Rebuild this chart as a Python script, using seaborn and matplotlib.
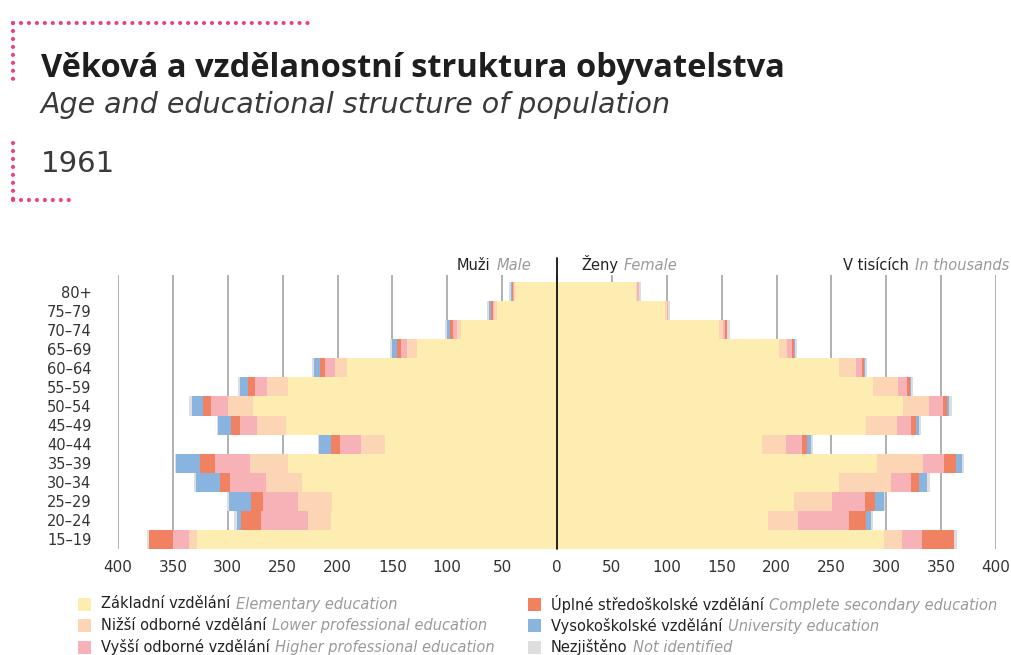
import numpy as np
import pandas as pd
import matplotlib
matplotlib.use("Agg")
import matplotlib.pyplot as plt
import seaborn as sns
from matplotlib.lines import Line2D
from matplotlib.patches import Rectangle

# age groups, top row first
ages = ["80+", "75–79", "70–74", "65–69", "60–64", "55–59", "50–54",
        "45–49", "40–44", "35–39", "30–34", "25–29", "20–24", "15–19"]

# thousands of persons (same order as ages)
male_elementary = [38, 55, 87.5, 128, 191, 245, 277, 247, 157, 245, 232, 205, 206, 328]
male_lower_prof = [1, 2, 3.7, 9, 11, 19, 23, 26, 22, 35, 33, 31, 21, 7]
male_higher_prof = [1, 1.5, 3.3, 5, 9, 11, 15, 16, 19, 32, 33, 32, 43, 15]
male_secondary = [1.2, 1.5, 2.8, 4, 5, 7, 8, 8, 8, 13, 9, 11, 18, 22]
male_university = [0.6, 2.4, 3, 4, 5, 7, 10, 12, 11, 22, 22, 20, 4, 0]
male_unknown = [1.9, 1.5, 1.8, 2, 2.4, 2, 2.5, 1, 1, 0.8, 2, 1.5, 2, 2]

female_elementary = [72, 98, 148, 202, 257, 288, 315, 282, 187, 291.5, 257, 216, 192, 298]
female_lower_prof = [1.2, 1.8, 3, 7.6, 15.5, 23, 24, 28, 22, 42, 47, 35, 28, 16]
female_higher_prof = [1.2, 1.2, 2, 4.2, 5, 7.6, 13, 13, 14, 19, 19, 30, 46, 19]
female_secondary = [0.3, 0.4, 2, 1.8, 2.4, 2.7, 3.6, 4, 5, 11.5, 6.4, 9, 16, 29]
female_university = [0, 0, 0.3, 1.2, 1, 1.5, 2, 2.4, 3, 5, 8, 7.6, 4, 0]
female_unknown = [1.8, 2, 2, 1.5, 1.8, 1.8, 2, 2, 2.5, 2, 2.4, 1.5, 2, 2.4]

cz_labels = ["Základní vzdělání", "Nižší odborné vzdělání", "Vyšší odborné vzdělání",
             "Úplné středoškolské vzdělání", "Vysokoškolské vzdělání", "Nezjištěno"]
en_labels = ["Elementary education", "Lower professional education",
             "Higher professional education", "Complete secondary education",
             "University education", "Not identified"]
colors = ["#FEEDB0", "#FCD5B5", "#F7B2B7", "#F08261", "#8AB4E0", "#DEDEDE"]

xticks = list(range(-400, 401, 50))

male = [male_elementary, male_lower_prof, male_higher_prof,
        male_secondary, male_university, male_unknown]
female = [female_elementary, female_lower_prof, female_higher_prof,
          female_secondary, female_university, female_unknown]

W, H = 1011, 655


def fx(x):
    return x / W


def fy(y):
    return 1 - y / H


sns.set_theme(style="white")
plt.rcParams["font.family"] = ["DejaVu Sans"]

fig = plt.figure(figsize=(W / 100, H / 100), dpi=100)
ax = fig.add_axes([fx(118), fy(549), fx(996 - 118), (549 - 275) / H])

# stacked bars: draw cumulative totals, outermost first
male_cum = np.cumsum(np.array(male), axis=0)
female_cum = np.cumsum(np.array(female), axis=0)
for i in range(len(colors) - 1, -1, -1):
    df = pd.DataFrame({"age": ages, "male": -male_cum[i], "female": female_cum[i]})
    sns.barplot(data=df, x="male", y="age", order=ages, orient="h", color=colors[i],
                saturation=1, width=1, linewidth=0, errorbar=None, ax=ax, zorder=2)
    sns.barplot(data=df, x="female", y="age", order=ages, orient="h", color=colors[i],
                saturation=1, width=1, linewidth=0, errorbar=None, ax=ax, zorder=2)

ax.set_xlim(-400, 400)
ax.set_ylim(13.5, -0.87)
ax.set_xticks(xticks)
ax.set_xticklabels([str(abs(t)) for t in xticks])
ax.set_xlabel("")
ax.set_ylabel("")
for s in ax.spines.values():
    s.set_visible(False)
ax.set_axisbelow(True)
ax.xaxis.grid(True, color="#A3A3A3", linewidth=1.2)
ax.yaxis.grid(False)
ax.tick_params(axis="x", length=0, pad=8, labelsize=11, labelcolor="#333333")
ax.tick_params(axis="y", length=0, pad=19, labelsize=10.5, labelcolor="#333333")
ax.axvline(0, ymin=0, ymax=1 + 17 / 274, color="#111111", linewidth=1.3,
           clip_on=False, zorder=5)

# header labels above the bars
hdr = 10.5
ty = fy(270)
t = fig.text(fx(531), ty, "Male", ha="right", va="baseline", fontsize=hdr,
             color="#9A9A9A", style="italic")
ax.annotate("Muži", xy=(0, 0), xycoords=t, xytext=(-4, 0), textcoords="offset points",
            ha="right", va="bottom", fontsize=hdr, color="#222222", annotation_clip=False)
t = fig.text(fx(581), ty, "Ženy", ha="left", va="baseline", fontsize=hdr, color="#222222")
ax.annotate("Female", xy=(1, 0), xycoords=t, xytext=(4, 0), textcoords="offset points",
            ha="left", va="bottom", fontsize=hdr, color="#9A9A9A", style="italic",
            annotation_clip=False)
t = fig.text(fx(1009), ty, "In thousands", ha="right", va="baseline", fontsize=hdr,
             color="#9A9A9A", style="italic")
ax.annotate("V tisících", xy=(0, 0), xycoords=t, xytext=(-4, 0), textcoords="offset points",
            ha="right", va="bottom", fontsize=hdr, color="#222222", annotation_clip=False)

# titles
fig.text(fx(41), fy(77), "Věková a vzdělanostní struktura obyvatelstva", fontsize=23.5,
         fontweight="bold", color="#1E1E1E", va="baseline", family="Open Sans")
fig.text(fx(41), fy(113), "Age and educational structure of population", fontsize=20.5,
         style="italic", color="#3A3A3A", va="baseline")
fig.text(fx(41), fy(172), "1961", fontsize=21, color="#3A3A3A", va="baseline")

# pink dotted brackets
pink = "#EC3F84"
dots = dict(color=pink, linewidth=3.0, linestyle=(0, (0.01, 1.9)),
            dash_capstyle="round", transform=fig.transFigure)
fig.add_artist(Line2D([fx(13), fx(313)], [fy(22.5), fy(22.5)], **dots))
fig.add_artist(Line2D([fx(13), fx(13)], [fy(22.5), fy(81)], **dots))
fig.add_artist(Line2D([fx(13), fx(13)], [fy(143), fy(200)], **dots))
fig.add_artist(Line2D([fx(13), fx(70)], [fy(200), fy(200)], **dots))

# legend, two columns of three
leg_x = [78, 528]
leg_y = [604, 625.5, 647]
for k in range(len(colors)):
    col, row = divmod(k, 3)
    x0, y0 = leg_x[col], leg_y[row]
    fig.add_artist(Rectangle((fx(x0), fy(y0 + 6.5)), 13 / W, 13 / H,
                             transform=fig.transFigure, color=colors[k], linewidth=0))
    t = fig.text(fx(x0 + 23), fy(y0), cz_labels[k], fontsize=10.5, color="#222222",
                 va="center")
    ax.annotate(en_labels[k], xy=(1, 0), xycoords=t, xytext=(4, 0),
                textcoords="offset points", ha="left", va="bottom", fontsize=10.5,
                color="#9A9A9A", style="italic", annotation_clip=False)

fig.savefig("out.png", dpi=100)
